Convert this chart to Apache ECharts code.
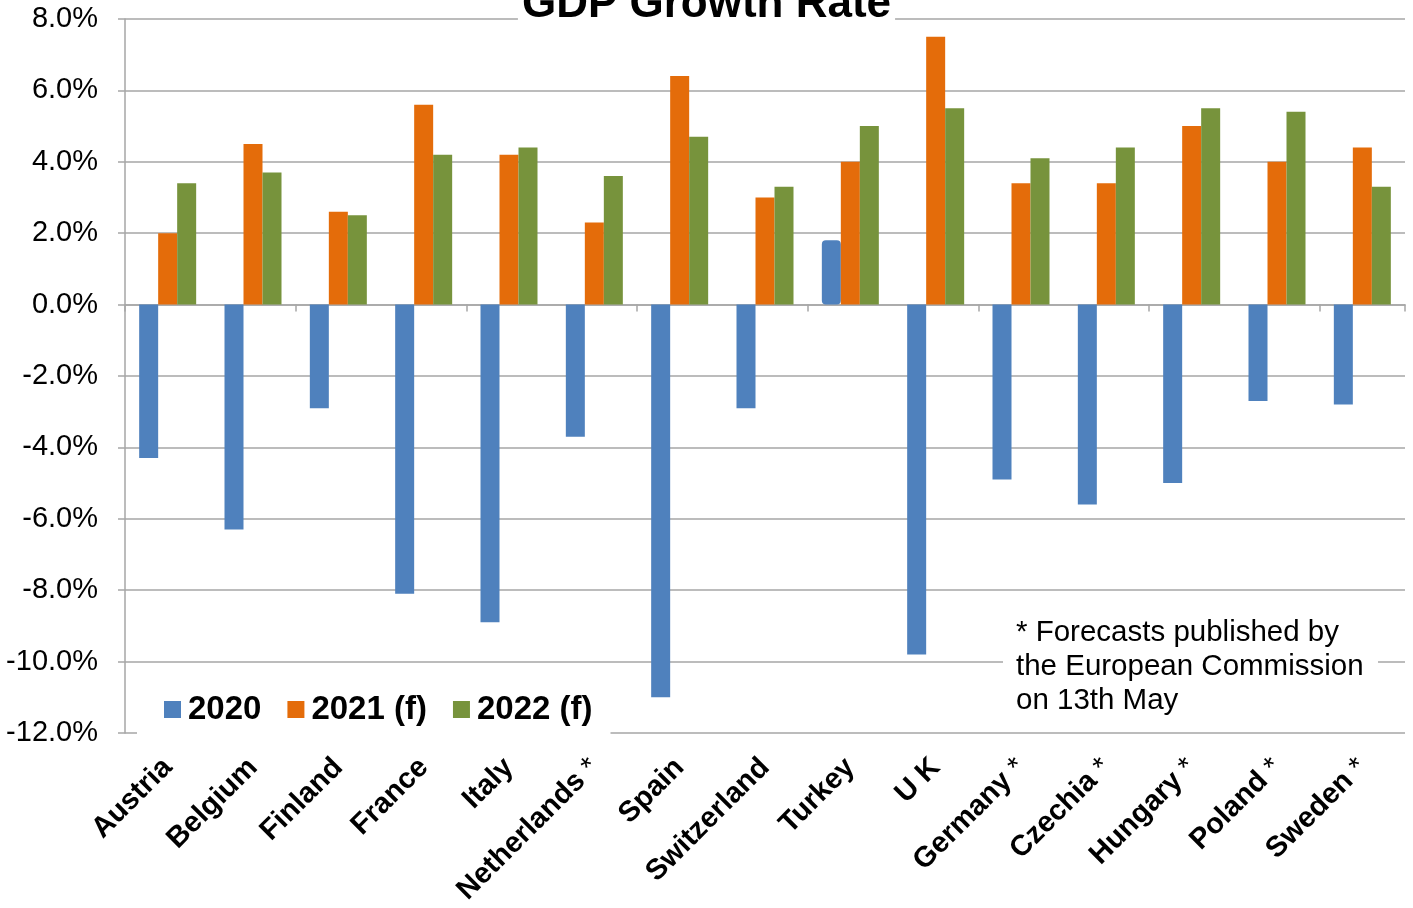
<!DOCTYPE html>
<html>
<head>
<meta charset="utf-8">
<script src="https://cdn.jsdelivr.net/npm/echarts@6/dist/echarts.min.js"></script>
<style>html,body{margin:0;padding:0;background:#fff;}#c{width:1413px;height:908px;}</style>
</head>
<body>
<div id="c"></div>
<script>
const categories = ['Austria','Belgium','Finland','France','Italy','Netherlands *','Spain','Switzerland','Turkey','U K','Germany *','Czechia *','Hungary *','Poland *','Sweden *'];
const seriesNames = ['2020','2021 (f)','2022 (f)'];
const v2020 = [-4.3,-6.3,-2.9,-8.1,-8.9,-3.7,-11.0,-2.9,1.8,-9.8,-4.9,-5.6,-5.0,-2.7,-2.8];
const v2021 = [2.0,4.5,2.6,5.6,4.2,2.3,6.4,3.0,4.0,7.5,3.4,3.4,5.0,4.0,4.4];
const v2022 = [3.4,3.7,2.5,4.2,4.4,3.6,4.7,3.3,5.0,5.5,4.1,4.4,5.5,5.4,3.3];
const yTicks = [-12,-10,-8,-6,-4,-2,0,2,4,6,8];
const noteLines = ['* Forecasts published by','the European Commission','on 13th May'];

const FONT = '"Liberation Sans", Arial, sans-serif';
const colors = ['#4F81BD','#E46C0A','#77933C'];
const GRID = '#A6A6A6';

// highlighted bars in the original (Italy and Turkey 2020)
const d2020 = v2020.map((v, i) => {
  if (categories[i] === 'Italy') return {value: v, itemStyle: {borderColor: colors[0], borderWidth: 2}};
  if (categories[i] === 'Turkey') return {value: v, itemStyle: {borderColor: colors[0], borderWidth: 2, borderRadius: 3}};
  return v;
});

const chart = echarts.init(document.getElementById('c'), null, {renderer: 'canvas'});
const option = {
  animation: false,
  backgroundColor: '#fff',
  color: colors,
  title: {
    text: 'GDP Growth Rate',
    left: 'center',
    top: -22,
    padding: [5, 4],
    backgroundColor: '#fff',
    textStyle: {fontFamily: FONT, fontSize: 44, fontWeight: 'bold', color: '#000'}
  },
  grid: {left: 125, right: 8, top: 19, bottom: 175, containLabel: false},
  legend: {
    data: seriesNames,
    left: 137,
    top: 680,
    orient: 'horizontal',
    padding: [13, 18, 13, 27],
    backgroundColor: '#fff',
    itemWidth: 17,
    itemHeight: 17,
    itemGap: 26,
    icon: 'rect',
    textStyle: {fontFamily: FONT, fontSize: 33, fontWeight: 'bold', color: '#000', padding: [0,0,0,2]}
  },
  xAxis: [
    {
      type: 'category',
      data: categories,
      position: 'bottom',
      axisLine: {onZero: true, lineStyle: {color: GRID, width: 1.5}},
      axisTick: {show: true, length: 7, lineStyle: {color: GRID, width: 1.5}},
      axisLabel: {show: false},
      splitLine: {show: false}
    },
    {
      type: 'category',
      data: categories,
      position: 'bottom',
      axisLine: {show: false, onZero: false},
      axisTick: {show: false},
      splitLine: {show: false},
      axisLabel: {
        rotate: 45,
        margin: 30,
        interval: 0,
        formatter: function (val) {
          if (val.endsWith(' *')) return '{b|' + val.slice(0, -2) + '}{s|*}';
          return '{b|' + val + '}';
        },
        rich: {
          b: {fontFamily: FONT, fontSize: 29, fontWeight: 'bold', color: '#000'},
          s: {fontFamily: FONT, fontSize: 29, fontWeight: 'normal', color: '#000', verticalAlign: 'top', padding: [0, 0, 0, 8]}
        }
      }
    }
  ],
  yAxis: {
    type: 'value',
    min: -12,
    max: 8,
    interval: 2,
    axisLine: {show: true, lineStyle: {color: GRID, width: 1.5}},
    axisTick: {show: true, length: 7, lineStyle: {color: GRID, width: 1.5}},
    splitLine: {show: true, lineStyle: {color: GRID, width: 1.5}},
    axisLabel: {
      margin: 27,
      fontFamily: FONT,
      fontSize: 29,
      color: '#000',
      formatter: v => (yTicks.includes(v) ? v.toFixed(1) + '%' : '')
    }
  },
  series: [
    {name: seriesNames[0], type: 'bar', xAxisIndex: 0, data: d2020, barWidth: 19, barGap: '0%'},
    {name: seriesNames[1], type: 'bar', xAxisIndex: 0, data: v2021, barWidth: 19, barGap: '0%'},
    {name: seriesNames[2], type: 'bar', xAxisIndex: 0, data: v2022, barWidth: 19, barGap: '0%'}
  ],
  graphic: [
    {type: 'rect', left: 1003, top: 612, z: 100, shape: {width: 375, height: 108}, style: {fill: '#fff'}},
    {type: 'text', left: 1016, top: 616, z: 101, style: {text: noteLines.join('\n'), fontFamily: FONT, fontSize: 29.5, lineHeight: 34, fill: '#000'}}
  ]
};
chart.setOption(option);
</script>
</body>
</html>
